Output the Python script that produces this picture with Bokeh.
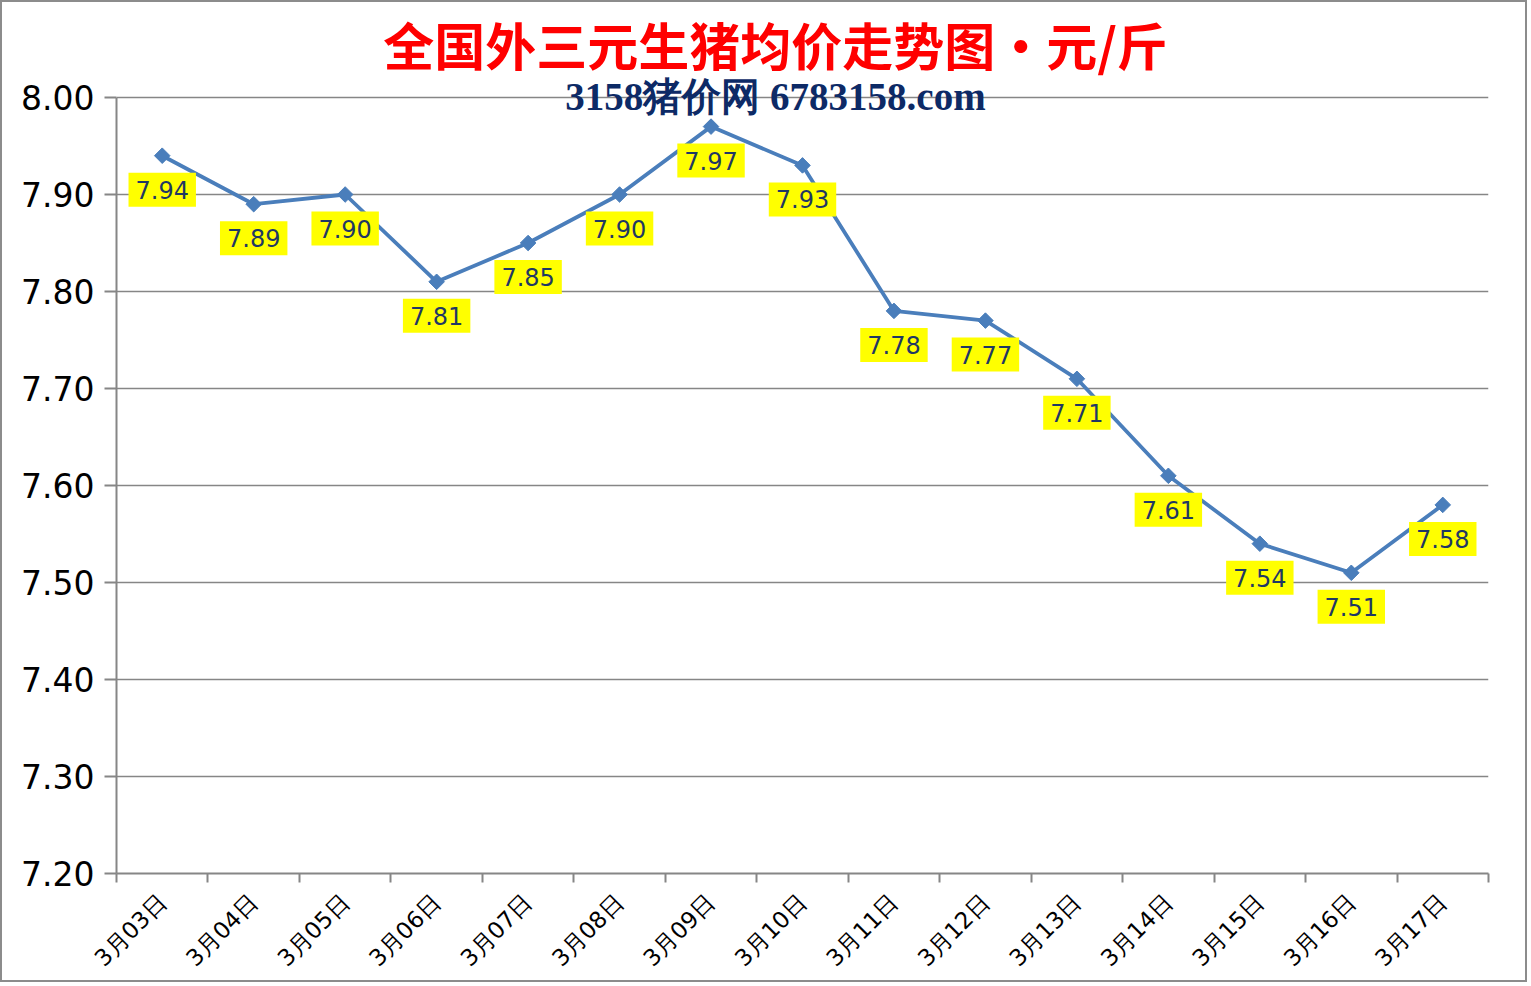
import math
from bokeh.plotting import figure
from bokeh.models import ColumnDataSource, FixedTicker, Label, Range1d, NumeralTickFormatter
from bokeh.core.properties import value
from bokeh.embed import file_html
from bokeh.resources import INLINE

dates = ["3月03日", "3月04日", "3月05日", "3月06日", "3月07日", "3月08日", "3月09日", "3月10日",
         "3月11日", "3月12日", "3月13日", "3月14日", "3月15日", "3月16日", "3月17日"]
prices = [7.94, 7.89, 7.90, 7.81, 7.85, 7.90, 7.97, 7.93, 7.78, 7.77, 7.71, 7.61, 7.54, 7.51, 7.58]
y_ticks = [7.20, 7.30, 7.40, 7.50, 7.60, 7.70, 7.80, 7.90, 8.00]
title_text = "全国外三元生猪均价走势图•元/斤"
subtitle_text = "3158猪价网 6783158.com"

n = len(dates)
xs = [i + 0.5 for i in range(n)]
labels = ["%.2f" % v for v in prices]

src = ColumnDataSource(dict(x=xs, y=prices, lab=labels))

# layout (pixels)
W, H = 1527, 982
frame_left, frame_right_pad, frame_bottom_pad = 114, 41, 111
plot_top_px = 95  # where the 8.00 gridline sits
frame_h = H - frame_bottom_pad
y_lo, y_hi = y_ticks[0], y_ticks[-1]
y_top = y_lo + (y_hi - y_lo) * frame_h / (frame_h - plot_top_px)

p = figure(width=W, height=H, output_backend="svg", toolbar_location=None,
           x_range=Range1d(0, n), y_range=Range1d(y_lo, y_top),
           min_border_left=frame_left, min_border_right=frame_right_pad,
           min_border_top=0, min_border_bottom=frame_bottom_pad)
p.styles = {"border": "2px solid #8c8c8c"}
p.outline_line_color = None
p.background_fill_color = "white"
p.border_fill_color = "white"

# x axis
p.xaxis.ticker = FixedTicker(ticks=xs, minor_ticks=list(range(n + 1)))
p.xaxis.major_label_overrides = {x: d for x, d in zip(xs, dates)}
p.xaxis.major_label_orientation = math.pi / 4
p.xaxis.major_tick_line_color = None
p.xaxis.minor_tick_line_color = "#868686"
p.xaxis.minor_tick_line_width = 2
p.xaxis.minor_tick_out = 9
p.xaxis.minor_tick_in = 0
p.xaxis.axis_line_color = "#868686"
p.xaxis.axis_line_width = 2
p.xaxis.major_label_text_font = "DejaVu Sans"
p.xaxis.major_label_text_font_size = "23px"
p.xaxis.major_label_text_color = "black"
p.xaxis.major_label_standoff = 16

# y axis
p.yaxis.ticker = FixedTicker(ticks=y_ticks, minor_ticks=[])
p.yaxis.bounds = (y_lo, y_hi)
p.yaxis.formatter = NumeralTickFormatter(format="0.00")
p.yaxis.axis_line_color = "#868686"
p.yaxis.axis_line_width = 2
p.yaxis.major_tick_line_color = "#868686"
p.yaxis.major_tick_line_width = 2
p.yaxis.major_tick_out = 12
p.yaxis.major_tick_in = 0
p.yaxis.major_label_text_font = "DejaVu Sans"
p.yaxis.major_label_text_font_size = "33px"
p.yaxis.major_label_text_color = "black"
p.yaxis.major_label_standoff = 10

p.xgrid.grid_line_color = None
p.ygrid.ticker = FixedTicker(ticks=y_ticks, minor_ticks=[])
p.ygrid.grid_line_color = "#868686"
p.ygrid.grid_line_width = 1.5

p.line("x", "y", source=src, line_color="#4a7ebb", line_width=3.8)
p.scatter("x", "y", source=src, marker="square", angle=math.pi / 4, size=11,
          fill_color="#4a7ebb", line_color="#4a7ebb")

p.text("x", "y", text="lab", source=src, y_offset=34, text_align="center", text_baseline="middle",
       text_font=value("DejaVu Sans"), text_font_size="24px", text_color="#1f3864",
       background_fill_color="yellow", padding=dict(left=7, right=7, top=8, bottom=8))

p.add_layout(Label(x=659, y=830, x_units="screen", y_units="screen", text=title_text,
                   text_align="center", text_baseline="middle", text_font="Noto Sans CJK SC",
                   text_font_style="bold", text_font_size="51px", text_color="red"))
p.add_layout(Label(x=659, y=777, x_units="screen", y_units="screen", text=subtitle_text,
                   text_align="center", text_baseline="middle", text_font="Liberation Serif",
                   text_font_style="bold", text_font_size="39px", text_color="#0d2a66"))

open("out.html", "w").write(file_html(p, INLINE))
